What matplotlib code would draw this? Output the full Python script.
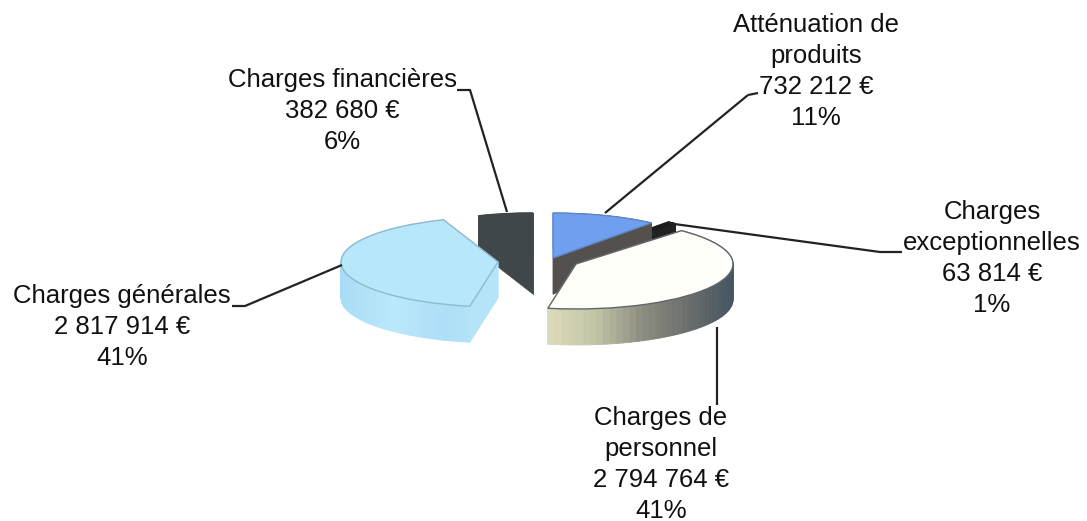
import matplotlib
matplotlib.use('Agg')
import matplotlib.pyplot as plt
import numpy as np
from matplotlib.colors import LinearSegmentedColormap

plt.rcParams['font.family'] = ['Liberation Sans', 'DejaVu Sans']

# Data, clockwise from 12 o'clock
categories = ['Atténuation de\nproduits', 'Charges\nexceptionnelles', 'Charges de\npersonnel',
              'Charges générales', 'Charges financières']
amounts = [732212, 63814, 2794764, 2817914, 382680]
amount_labels = ['732 212 €', '63 814 €', '2 794 764 €', '2 817 914 €', '382 680 €']
percents = ['11%', '1%', '41%', '41%', '6%']

W, H = 1087, 521
RX, RY = 157, 45   # ellipse radii in pixels
DEPTH = 36

fig = plt.figure(figsize=(W / 100, H / 100), dpi=100)
ax = fig.add_axes([0, 0, 1, 1])


def px(x, y):
    # pixel position of the reference -> squashed data coords
    return x / RX, (H - y) / RY


# Slice styling / exploded centres (pixels)
centers = [(553, 258), (570, 257), (576, 264), (498, 262), (533, 258)]
tops = ['#6f9fee', '#1c1c1c', '#fffef9', '#b6e7fb', '#40474a']
edges = ['#5f86c8', '#1c1c1c', '#5d666c', '#8fb9cc', '#40474a']
walls = [['#4f86d6', '#4a7fc4', '#54504e', '#4a4440', '#3c3a38'],
         ['#222222', '#222222'],
         ['#dcdcba', '#c4c4a8', '#8e8e80', '#6b6f6c', '#465460'],
         ['#a8dcf6', '#bbe8fb', '#aedff7', '#b8e6fa'],
         ['#40474a', '#40474a', '#4a5a62']]
draw_order = [4, 1, 0, 3, 2]

wedges, _ = ax.pie(amounts, startangle=90, counterclock=False, radius=1)
ax.set_aspect('auto')
ax.set_xlim(0, W / RX)
ax.set_ylim(0, H / RY)
ax.axis('off')

dz = DEPTH / RY
for z, i in enumerate(draw_order):
    w = wedges[i]
    cx, cy = px(*centers[i])
    w.set_center((cx, cy))
    w.set_facecolor(tops[i])
    w.set_edgecolor(edges[i])
    w.set_linewidth(1.0)
    w.set_zorder(z * 2 + 1.5)

    # side walls: extrude the slice outline downwards, coloured by x
    cmap = LinearSegmentedColormap.from_list('wall', walls[i])
    th = np.radians(np.linspace(w.theta1, w.theta2, 60))
    xs = cx + np.cos(th)
    ys = cy + np.sin(th)
    outline_x = np.r_[cx, xs, cx]
    outline_y = np.r_[cy, ys, cy]
    xmin, xmax = outline_x.min(), outline_x.max()
    segs = []
    for k in range(len(outline_x) - 1):
        segs.append((outline_x[k:k + 2], outline_y[k:k + 2]))
    segs.sort(key=lambda s: -s[1].mean())
    for sx, sy in segs:
        t = (sx.mean() - xmin) / (xmax - xmin)
        col = cmap(t)
        ax.fill([sx[0], sx[1], sx[1], sx[0]],
                [sy[0], sy[1], sy[1] - dz, sy[0] - dz],
                facecolor=col, edgecolor=col, lw=0.6, zorder=z * 2 + 1)

# Leader lines
leaders = [[(748, 95), (605, 213)],
           [(758, 93), (748, 95)],
           [(667, 223), (880, 252), (902, 252)],
           [(717, 327), (717, 405)],
           [(342, 265), (245, 306), (232, 306)],
           [(457, 90), (470, 90), (507, 212)]]
for pts in leaders:
    p = [px(*q) for q in pts]
    ax.plot([a for a, b in p], [b for a, b in p], color='#222222', lw=1.6, zorder=20,
            solid_capstyle='butt')

# Labels: centre x and y of the first line, in pixels
label_pos = [(816, 25), (992, 212), (661, 418), (122, 296), (342, 80)]
for cat, amt, pct, (lx, ly) in zip(categories, amount_labels, percents, label_pos):
    lines = cat.split('\n') + [amt, pct]
    for n, line in enumerate(lines):
        ax.text(*px(lx, ly + n * 31), line, ha='center', va='center',
                fontsize=18.5, color='#111111', zorder=21)

fig.savefig('out.png', dpi=100, facecolor='white')
